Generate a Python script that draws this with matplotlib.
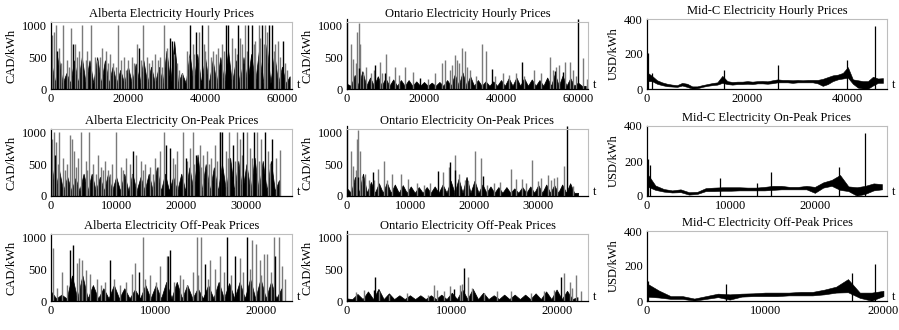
import matplotlib
matplotlib.use("Agg")
import matplotlib.pyplot as plt
import numpy as np

plt.rcParams["font.family"] = ["Liberation Serif", "DejaVu Serif"]
plt.rcParams["font.size"] = 9

# ---- Alberta (CAD/kWh) ----
# body = peak of the dense black band per step, floor = typical trough level
ab_hourly_body = [450, 500, 250, 450, 500, 450, 500, 450, 350, 300, 350, 400, 450, 350, 350, 600,
                  750, 250, 550, 550, 500, 450, 500, 600, 450, 500, 550, 600, 700, 550, 350, 200]
ab_hourly_floor = 90
ab_hourly_spikes = [(350, 850), (870, 900), (1300, 1000), (2170, 650), (3200, 1000), (4100, 450),
                    (5100, 950), (6200, 700), (7400, 600), (8000, 1000), (9450, 600), (10300, 1000),
                    (11400, 500), (12700, 500), (13200, 650), (14300, 600), (15300, 550), (16200, 400),
                    (17500, 1000), (19000, 500), (20100, 450), (21000, 500), (22300, 700), (24000, 1000),
                    (24900, 500), (26200, 450), (27000, 550), (28400, 500), (29400, 1000), (30100, 650),
                    (32000, 550), (32700, 400), (34000, 250), (35300, 600), (36800, 700), (38400, 900),
                    (40100, 600), (40900, 1000), (42200, 600), (43500, 650), (44400, 700), (47000, 800),
                    (47900, 650), (49600, 700), (50500, 1000), (53100, 750), (53900, 1000), (55700, 1000),
                    (58300, 700), (59000, 750), (61300, 300), (2600, 400), (4600, 350), (6800, 500),
                    (9000, 450), (11900, 450), (14800, 400), (16800, 350), (18300, 450), (19600, 300),
                    (21600, 400), (23300, 450), (25500, 400), (27700, 450), (28900, 350), (33300, 300),
                    (35800, 500), (37200, 550), (39700, 700), (41500, 500), (42800, 550), (45000, 600),
                    (48300, 550), (49100, 800), (50900, 600), (52700, 700), (54300, 800), (55200, 700),
                    (56100, 900), (57900, 600), (59600, 500), (60800, 400)]
ab_hourly_dark = [(1500, 600), (5600, 700), (22800, 650), (30800, 800), (31400, 750), (36000, 1000),
                  (37700, 900), (39200, 1000), (45500, 1000), (46100, 1000), (48700, 1000), (51300, 1000),
                  (52200, 1000), (54800, 1000), (56500, 1000), (57400, 1000), (60300, 750)]

ab_on_body = [550, 400, 300, 280, 350, 350, 300, 350, 300, 350, 350, 300, 350, 450, 350, 300, 350, 450,
              650, 500, 450, 500, 600, 550, 500, 600, 550, 550, 250]
ab_on_floor = 80
ab_on_spikes = [(200, 900), (500, 1000), (800, 850), (1300, 1000), (1800, 600), (2500, 500), (2900, 950),
                (3200, 900), (3600, 700), (4200, 600), (4600, 1000), (5300, 550), (5900, 1000), (6500, 500),
                (7200, 650), (7700, 450), (8300, 550), (8800, 400), (9400, 500), (10000, 1000), (10800, 450),
                (11500, 600), (12100, 500), (13100, 650), (13800, 550), (14500, 500), (15200, 450),
                (16000, 600), (16700, 700), (17300, 1000), (18700, 600), (19300, 700), (20200, 1000),
                (21300, 750), (21800, 1000), (22800, 800), (23400, 650), (24000, 700), (24600, 600),
                (25200, 800), (25900, 1000), (26900, 700), (27400, 1000), (28500, 1000), (29000, 900),
                (30100, 1000), (30600, 750), (31700, 1000), (32300, 900), (33300, 700), (34500, 600),
                (35100, 720), (1000, 500), (2200, 400), (3900, 450), (5600, 400), (6900, 350), (8000, 400),
                (9100, 350), (11100, 400), (12400, 350), (14100, 400), (15600, 350), (16400, 450),
                (19000, 500), (20900, 550), (22000, 500), (23100, 450), (24300, 500), (25500, 550),
                (27100, 600), (28200, 550), (29300, 650), (30900, 600), (31900, 550), (33600, 500)]
ab_on_dark = [(600, 650), (12600, 700), (17700, 800), (18200, 750), (20700, 600), (22300, 650),
              (26000, 1000), (26300, 1000), (27900, 800), (29500, 1000), (31200, 1000), (32800, 1000),
              (33900, 900)]

ab_off_body = [150, 100, 400, 400, 250, 200, 250, 200, 180, 250, 250, 300, 300, 250, 200, 250, 300, 280,
               300, 350, 350, 300, 200]
ab_off_floor = 40
ab_off_spikes = [(200, 830), (1030, 450), (2450, 600), (2710, 680), (2920, 650), (3350, 480), (3700, 430),
                 (4390, 350), (5160, 300), (6620, 250), (7740, 430), (8000, 600), (8820, 1000), (9460, 400),
                 (10400, 550), (11050, 700), (11700, 300), (12300, 400), (12990, 250), (13590, 450),
                 (13930, 1000), (14360, 1000), (15220, 650), (15650, 500), (16170, 700), (18060, 680),
                 (19180, 950), (19520, 900), (19950, 650), (20300, 730), (20640, 730), (21240, 1000),
                 (21760, 1000), (22020, 550), (22360, 350), (600, 200), (1500, 250), (3000, 300), (4800, 250),
                 (6000, 350), (7200, 300), (9000, 350), (10000, 300), (12600, 350), (14000, 400),
                 (15000, 350), (16500, 450), (17200, 400), (18300, 450), (19000, 500), (20000, 400),
                 (21000, 450)]
ab_off_dark = [(1800, 800), (2060, 880), (5630, 650), (8430, 450), (11200, 700), (11350, 800),
               (14710, 580), (16770, 1000), (17540, 700), (18660, 1000), (21410, 700)]

# ---- Ontario (CAD/kWh) ----
on_hourly_body = [80, 220, 280, 180, 200, 170, 150, 140, 140, 120, 110, 100, 110, 140, 230, 260,
                  200, 140, 120, 120, 140, 170, 180, 170, 150, 140, 180, 240, 210, 170, 100, 50]
on_hourly_floor = 50
on_hourly_spikes = [(1050, 700), (1500, 470), (2360, 400), (2620, 900), (3060, 1040), (3500, 700),
                    (5000, 350), (6300, 250), (8470, 420), (10200, 550), (12400, 340), (15000, 340),
                    (17200, 260), (22900, 250), (24600, 400), (25500, 450), (28100, 530), (28500, 450),
                    (29900, 640), (30700, 600), (32000, 300), (35100, 700), (36000, 600), (42000, 220),
                    (48500, 300), (52600, 500), (55000, 380), (56500, 430), (57800, 420), (58700, 300),
                    (61300, 480), (62300, 150), (4200, 250), (7000, 300), (9000, 250), (11000, 200),
                    (13600, 220), (21000, 150), (26700, 300), (27400, 380), (29200, 400), (31200, 350),
                    (33600, 200), (38500, 200), (40500, 250), (44000, 250), (46000, 200), (50300, 250),
                    (53500, 300), (54300, 350), (59500, 200)]
on_hourly_dark = [(3230, 330), (7300, 380), (9800, 250), (19000, 180), (37700, 320), (45500, 430),
                  (54000, 280), (56000, 260), (60000, 1100)]

on_on_body = [120, 300, 350, 220, 200, 210, 180, 170, 150, 140, 140, 150, 180, 240, 270, 300, 240, 180,
              150, 140, 140, 120, 140, 150, 170, 180, 170, 180, 200, 50]
on_on_floor = 50
on_on_spikes = [(600, 700), (1000, 470), (1400, 400), (1600, 900), (1800, 1040), (2000, 700), (2900, 350),
                (3500, 250), (4800, 420), (5800, 550), (7000, 350), (8500, 340), (9600, 270), (13000, 200),
                (15000, 380), (16000, 450), (17000, 640), (17500, 350), (18500, 250), (20000, 700),
                (21000, 600), (23000, 200), (24000, 220), (25800, 430), (26500, 270), (27500, 260),
                (29000, 560), (30500, 280), (31500, 330), (32000, 250), (33000, 300), (34000, 470),
                (35500, 150), (2400, 300), (4200, 250), (6300, 250), (11000, 200), (12000, 180),
                (19000, 230), (22000, 180), (28000, 200), (30000, 230), (32500, 280)]
on_on_dark = [(1700, 300), (4000, 380), (14200, 390), (16200, 530), (17000, 400), (21400, 320),
              (34500, 1100)]

on_off_body = [40, 110, 150, 190, 120, 90, 90, 90, 90, 100, 130, 180, 190, 130, 90, 100, 100, 100, 120,
               150, 180, 160, 60]
on_off_floor = 30
on_off_spikes = [(860, 140), (1630, 170), (3100, 150), (4040, 100), (5760, 130), (7740, 100), (8340, 250),
                 (8600, 170), (9290, 150), (9800, 240), (10750, 250), (11010, 270), (11520, 380),
                 (11950, 200), (13070, 130), (14360, 160), (15650, 150), (17540, 130), (18830, 150),
                 (19780, 180), (20730, 440), (21240, 300), (21500, 200), (21840, 400), (22360, 150)]
on_off_dark = [(2580, 180), (2670, 370), (10230, 190), (11180, 520), (20380, 380)]

# ---- Mid-C (USD/kWh): low / high envelope per step ----
mc_hourly_low = [45, 45, 30, 22, 16, 14, 12, 20, 12, 2, 4, 12, 18, 22, 25, 35, 28, 25, 28, 28, 30, 28,
                 32, 32, 30, 33, 38, 38, 38, 35, 38, 38, 38, 38, 32, 18, 28, 45, 55, 60, 65, 30, 8, 2,
                 2, 20, 35, 35]
mc_hourly_high = [95, 75, 50, 38, 30, 25, 22, 35, 30, 15, 15, 22, 28, 34, 38, 75, 45, 40, 42, 42, 45, 42,
                  45, 46, 44, 50, 55, 52, 52, 50, 52, 50, 52, 52, 52, 58, 68, 78, 82, 92, 125, 55, 50, 45,
                  45, 70, 60, 62]
mc_hourly_spikes = [(200, 205), (1000, 90), (15400, 110), (26000, 140), (39800, 165), (45400, 360)]

mc_on_low = [55, 35, 25, 20, 22, 8, 12, 28, 28, 30, 30, 32, 32, 32, 32, 35, 38, 38, 38, 38, 18, 48, 58,
             35, 28, 2, 12, 32, 38]
mc_on_high = [130, 60, 40, 32, 38, 22, 24, 45, 48, 50, 50, 50, 48, 48, 52, 58, 58, 52, 52, 58, 52, 78,
              92, 120, 55, 50, 58, 72, 68]
mc_on_spikes = [(150, 210), (400, 180), (8700, 105), (13100, 75), (14800, 140), (22900, 165), (26000, 360)]

mc_off_low = [25, 20, 12, 12, 2, 12, 22, 8, 25, 28, 28, 28, 32, 32, 32, 38, 48, 50, 18, 2, 28]
mc_off_high = [100, 60, 28, 28, 14, 28, 42, 38, 42, 44, 48, 48, 48, 52, 52, 65, 82, 125, 48, 48, 58]
mc_off_spikes = [(100, 115), (6700, 95), (17300, 160), (19300, 210)]

W, H = 899, 330
fig = plt.figure(figsize=(W / 100, H / 100), dpi=100)

cols = [(51, 292), (347, 588), (647, 887)]
rows_bottom = [89, 196, 301]


def make_ax(col, row, height):
    x0, x1 = cols[col]
    yb = rows_bottom[row]
    return fig.add_axes([x0 / W, (H - yb) / H, (x1 - x0) / W, height / H])


def style(ax, title, ylabel, xmax, xticks, yticks, ymax):
    ax.set_xlim(0, xmax)
    ax.set_ylim(0, ymax)
    ax.set_xticks(xticks)
    ax.set_yticks(yticks)
    ax.tick_params(length=0, pad=3)
    for s in ("top", "right"):
        ax.spines[s].set_color("#bdbdbd")
        ax.spines[s].set_linewidth(0.8)
    for s in ("left", "bottom"):
        ax.spines[s].set_color("black")
        ax.spines[s].set_linewidth(0.9)
    ax.set_title(title, pad=3.5, fontsize=9)
    ax.set_ylabel(ylabel, labelpad=3)
    ax.text(1.02, 0.01, "t", transform=ax.transAxes, ha="left", va="baseline")


def draw_cad(ax, step, body, floor, spikes, dark):
    # saw-tooth band: peaks at the body values, troughs at the floor level
    xb = np.arange(len(body)) * step
    zx = np.empty(2 * len(xb) - 1)
    zy = np.full(2 * len(xb) - 1, float(floor))
    zx[0::2] = xb
    zx[1::2] = xb[:-1] + step / 2
    zy[0::2] = body
    sx, sv = zip(*spikes)
    ax.vlines(sx, 0, sv, colors="#7a7a7a", linewidth=1.0)
    ax.fill_between(zx, 0, zy, color="black", lw=0.5)
    dx, dv = zip(*dark)
    ax.vlines(dx, 0, dv, colors="black", linewidth=1.0, clip_on=False)


def draw_midc(ax, step, low, high, spikes):
    xs = np.arange(len(low)) * step
    ax.fill_between(xs, low, high, color="black", lw=0.4)
    sx, sv = zip(*spikes)
    ax.vlines(sx, 0, sv, colors="black", linewidth=0.9)


cad_h = 67
mc_h = 70

# Row 1
ax = make_ax(0, 0, cad_h)
draw_cad(ax, 2000, ab_hourly_body, ab_hourly_floor, ab_hourly_spikes, ab_hourly_dark)
style(ax, "Alberta Electricity Hourly Prices", "CAD/kWh", 62600, [0, 20000, 40000, 60000], [0, 500, 1000], 1050)

ax = make_ax(1, 0, cad_h)
draw_cad(ax, 2000, on_hourly_body, on_hourly_floor, on_hourly_spikes, on_hourly_dark)
style(ax, "Ontario Electricity Hourly Prices", "CAD/kWh", 62600, [0, 20000, 40000, 60000], [0, 500, 1000], 1050)
ax.plot([0, 0], [0, 1100], color="black", lw=0.9, clip_on=False)

ax = make_ax(2, 0, mc_h)
draw_midc(ax, 1000, mc_hourly_low, mc_hourly_high, mc_hourly_spikes)
style(ax, "Mid-C Electricity Hourly Prices", "USD/kWh", 47800, [0, 20000, 40000], [0, 200, 400], 400)

# Row 2
ax = make_ax(0, 1, cad_h)
draw_cad(ax, 1250, ab_on_body, ab_on_floor, ab_on_spikes, ab_on_dark)
style(ax, "Alberta Electricity On-Peak Prices", "CAD/kWh", 37000, [0, 10000, 20000, 30000], [0, 500, 1000], 1050)

ax = make_ax(1, 1, cad_h)
draw_cad(ax, 1250, on_on_body, on_on_floor, on_on_spikes, on_on_dark)
style(ax, "Ontario Electricity On-Peak Prices", "CAD/kWh", 37800, [0, 10000, 20000, 30000], [0, 500, 1000], 1050)
ax.plot([0, 0], [0, 1100], color="black", lw=0.9, clip_on=False)

ax = make_ax(2, 1, mc_h)
draw_midc(ax, 1000, mc_on_low, mc_on_high, mc_on_spikes)
style(ax, "Mid-C Electricity On-Peak Prices", "USD/kWh", 28600, [0, 10000, 20000], [0, 200, 400], 400)

# Row 3
ax = make_ax(0, 2, cad_h)
draw_cad(ax, 1000, ab_off_body, ab_off_floor, ab_off_spikes, ab_off_dark)
style(ax, "Alberta Electricity Off-Peak Prices", "CAD/kWh", 23000, [0, 10000, 20000], [0, 500, 1000], 1050)

ax = make_ax(1, 2, cad_h)
draw_cad(ax, 1000, on_off_body, on_off_floor, on_off_spikes, on_off_dark)
style(ax, "Ontario Electricity Off-Peak Prices", "CAD/kWh", 23000, [0, 10000, 20000], [0, 500, 1000], 1050)
ax.plot([0, 0], [0, 1100], color="black", lw=0.9, clip_on=False)

ax = make_ax(2, 2, mc_h)
draw_midc(ax, 1000, mc_off_low, mc_off_high, mc_off_spikes)
style(ax, "Mid-C Electricity Off-Peak Prices", "USD/kWh", 20300, [0, 10000, 20000], [0, 200, 400], 400)

fig.savefig("out.png", dpi=100)
